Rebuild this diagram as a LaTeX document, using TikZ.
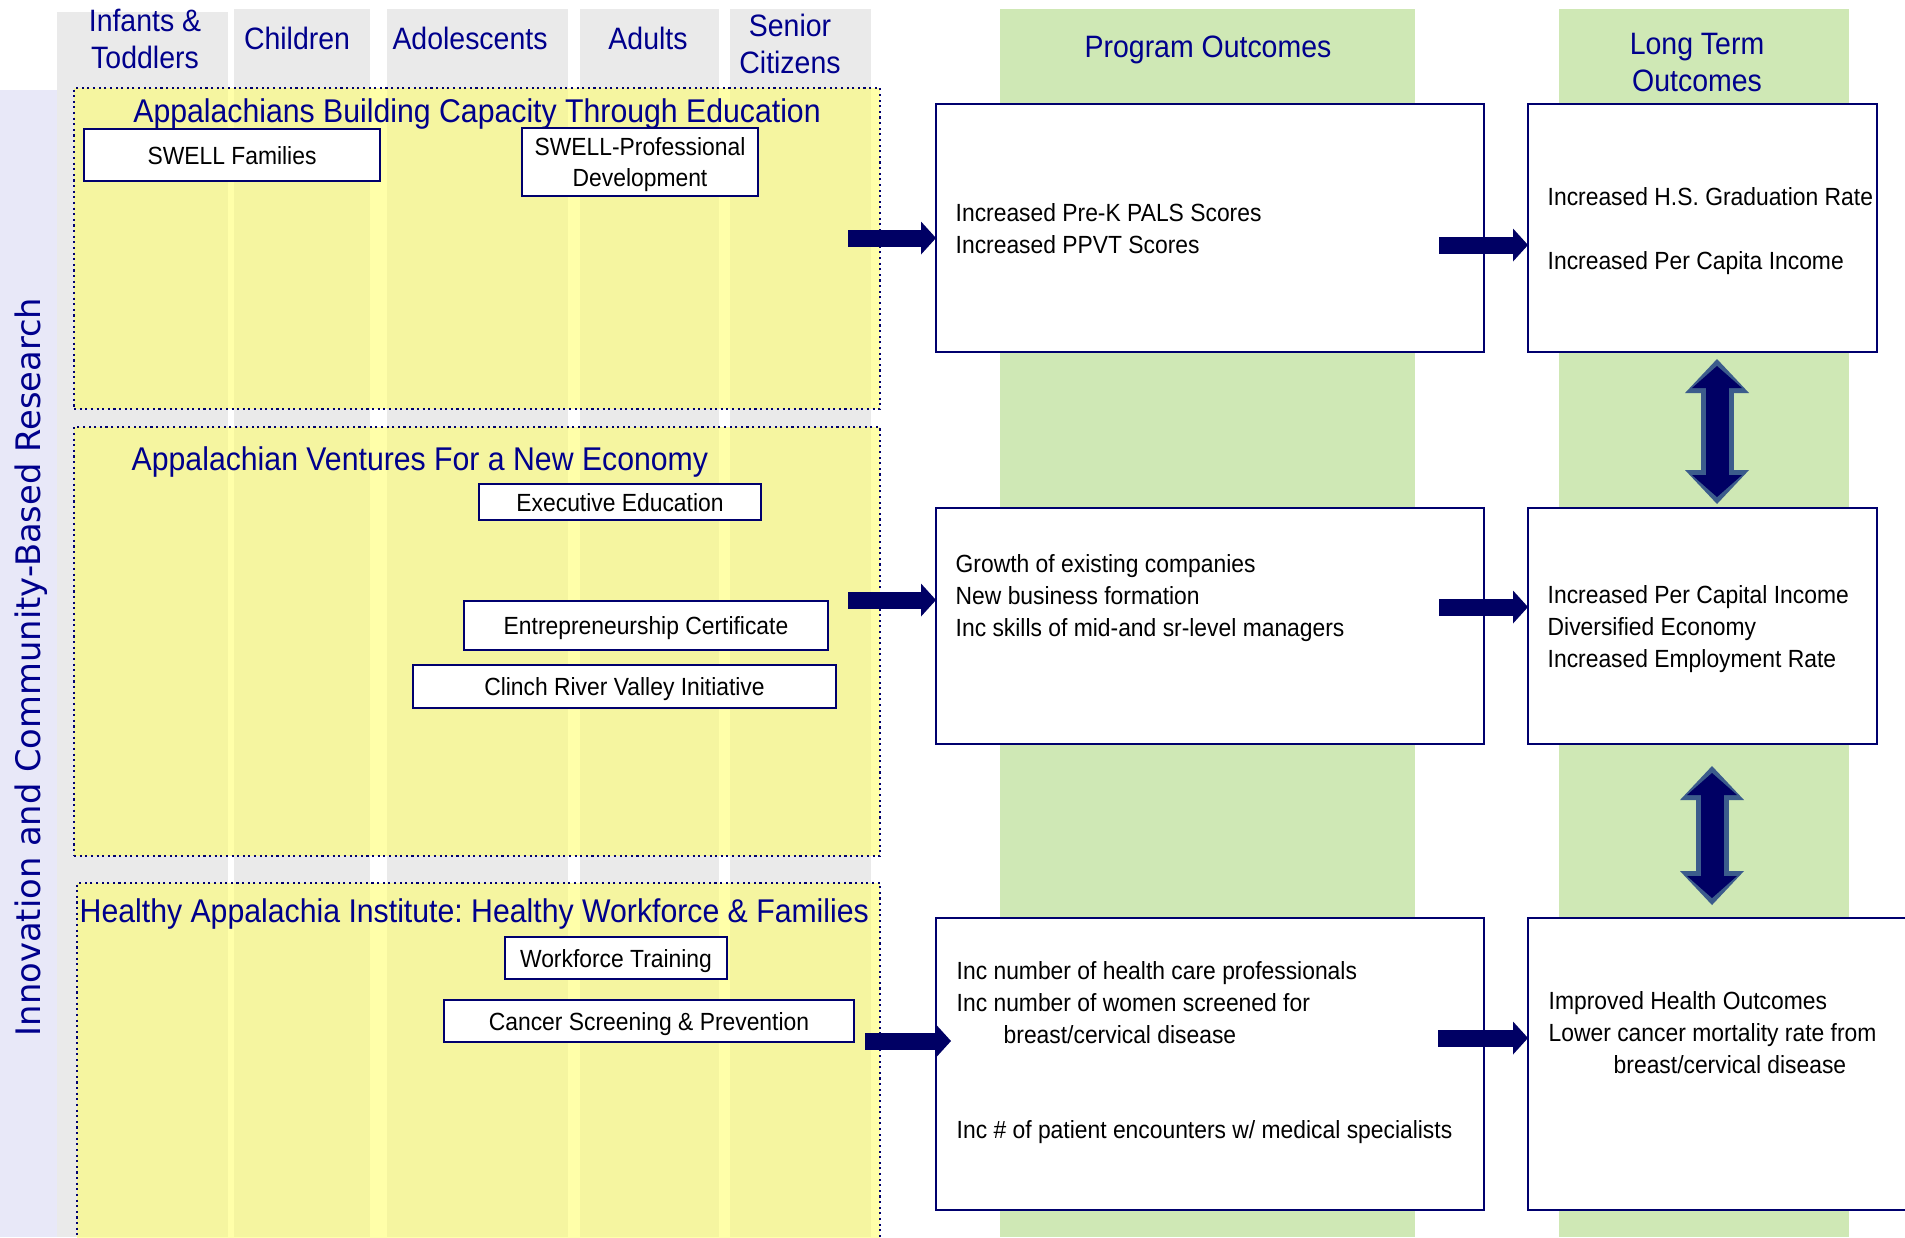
\documentclass[tikz,border=0pt]{standalone}
\usepackage{fontspec}
\setmainfont{Liberation Sans}[FakeStretch=0.92]
\newfontfamily\sidefont{DejaVu Sans}
\usetikzlibrary{positioning, calc, arrows.meta}
\frenchspacing

\definecolor{navytext}{RGB}{0,0,140}
\definecolor{navyline}{RGB}{0,0,110}
\definecolor{navyarrow}{RGB}{0,0,100}
\definecolor{steelrim}{RGB}{60,92,140}
\definecolor{headgrey}{RGB}{234,234,234}
\definecolor{sidelav}{RGB}{232,232,248}
\definecolor{outgreen}{RGB}{207,232,181}
\definecolor{progyellow}{RGB}{255,255,100}

\begin{document}
\begin{tikzpicture}[every node/.style={font=\fontsize{7.07}{9}\selectfont},
    colhead/.style={text=navytext, align=center, inner sep=0pt, anchor=base, font=\fontsize{8.8}{10.5}\selectfont},
    progarea/.style={draw=navyline, densely dotted, line width=0.6pt, fill=progyellow, fill opacity=0.55, anchor=north west, inner sep=0pt, minimum width=8.06cm},
    progtitle/.style={text=navytext, inner sep=0pt, font=\fontsize{9.35}{11}\selectfont},
    initiative/.style={draw=navyline, line width=0.8pt, fill=white, align=center, inner sep=0pt, text depth=0pt},
    outbox/.style={draw=navyline, line width=0.8pt, fill=white, anchor=north west, inner sep=0pt, outer sep=0pt},
    outtext/.style={align=left, inner sep=0pt, anchor=base west},
    blockarr/.style={draw=navyarrow, line width=0.17cm, -{Triangle[length=0.15cm, width=0.33cm, line width=0pt]}},
    dblrim/.style={draw=steelrim, line width=0.33cm, {Triangle[length=0.34cm, width=0.64cm, line width=0pt]}-{Triangle[length=0.34cm, width=0.64cm, line width=0pt]}},
    dblcore/.style={draw=navyarrow, line width=0.23cm, {Triangle[length=0.22cm, width=0.50cm, line width=0pt]}-{Triangle[length=0.22cm, width=0.50cm, line width=0pt]}}]
        \useasboundingbox (0,0) rectangle (19.05,-12.37);
        \fill[white] (0,0) rectangle (19.05,-12.37);

        % Background bands
        \fill[sidelav] (0,-0.90) rectangle (0.57,-12.37);
        \foreach \xl/\xr/\yt in {0.57/2.28/0.12, 2.34/3.70/0.09, 3.87/5.68/0.09, 5.80/7.19/0.09, 7.30/8.71/0.09}
            \fill[headgrey] (\xl,-\yt) rectangle (\xr,-12.37);
        \fill[outgreen] (10.00,-0.09) rectangle (14.15,-12.37);
        \fill[outgreen] (15.59,-0.09) rectangle (18.49,-12.37);

        % Age group headers (base = last line)
        \node (hInf) [colhead] at (1.45,-0.68) {Infants \&\\Toddlers};
        \node (hChild) [colhead] at (2.97,-0.49) {Children};
        \node (hAdol) [colhead] at (4.70,-0.49) {Adolescents};
        \node (hAdult) [colhead] at (6.48,-0.49) {Adults};
        \node (hSenior) [colhead] at (7.90,-0.73) {Senior\\Citizens};
        \node (hProg) [colhead] at (12.08,-0.57) {Program Outcomes};
        \node (hLong) [colhead] at (16.97,-0.91) {Long Term\\Outcomes};

        % Side label
        \node (sideLabel) [rotate=90, anchor=base, inner sep=0pt, text=navytext, font=\sidefont\fontsize{9.6}{11}\selectfont] at (0.41,-6.67) {Innovation and Community-Based Research};

        % Program areas
        \node (ABCE) [progarea, minimum height=3.21cm] at (0.73,-0.87) {};
        \node (AVNE) [progarea, minimum height=4.29cm] at (0.73,-4.26) {};
        \node (HAI) [progarea, minimum width=8.03cm, minimum height=4.0cm] at (0.76,-8.82) {};

        \node (ABCEtitle) [progtitle, anchor=base] at ([yshift=-0.35cm]ABCE.north) {Appalachians Building Capacity Through Education};
        \node (AVNEtitle) [progtitle, anchor=base west] at ($(AVNE.north west)+(0.58,-0.44)$) {Appalachian Ventures For a New Economy};
        \node (HAItitle) [progtitle, anchor=base west] at ($(HAI.north west)+(0.03,-0.40)$) {Healthy Appalachia Institute: Healthy Workforce \& Families};

        % Initiatives
        \node (SwellFam) [initiative, minimum width=2.96cm, minimum height=0.52cm] at (2.32,-1.55) {SWELL Families};
        \node (SwellPD) [initiative, minimum width=2.36cm, minimum height=0.68cm] at (6.40,-1.62) {SWELL-Professional\\Development};
        \node (ExecEd) [initiative, minimum width=2.82cm, minimum height=0.36cm] at (6.20,-5.02) {Executive Education};
        \node (EntCert) [initiative, minimum width=3.64cm, minimum height=0.49cm] at (6.46,-6.255) {Entrepreneurship Certificate};
        \node (Clinch) [initiative, minimum width=4.23cm, minimum height=0.43cm] at (6.245,-6.865) {Clinch River Valley Initiative};
        \node (WorkTrain) [initiative, minimum width=2.22cm, minimum height=0.42cm] at (6.16,-9.58) {Workforce Training};
        \node (CancerScr) [initiative, minimum width=4.10cm, minimum height=0.42cm] at (6.49,-10.21) {Cancer Screening \& Prevention};

        % Outcome boxes
        \node (ProgEdu) [outbox, minimum width=5.48cm, minimum height=2.48cm] at (9.36,-1.04) {};
        \node (LongEdu) [outbox, right=0.44cm of ProgEdu, minimum width=3.49cm, minimum height=2.48cm] {};
        \node (ProgEcon) [outbox, below=1.56cm of ProgEdu, minimum width=5.48cm, minimum height=2.36cm] {};
        \node (LongEcon) [outbox, right=0.44cm of ProgEcon, minimum width=3.49cm, minimum height=2.36cm] {};
        \node (ProgHealth) [outbox, below=1.74cm of ProgEcon, minimum width=5.48cm, minimum height=2.92cm] {};
        \node (LongHealth) [outbox, right=0.44cm of ProgHealth, minimum width=4.6cm, minimum height=2.92cm] {};

        % Outcome texts (base = last line)
        \node (ProgEduTxt) [outtext] at ($(ProgEdu.north west)+(0.19,-1.49)$) {Increased Pre-K PALS Scores\\Increased PPVT Scores};
        \node (LongEduTxt) [outtext] at ($(LongEdu.north west)+(0.19,-1.65)$) {Increased H.S. Graduation Rate\\[9pt]Increased Per Capita Income};
        \node (ProgEconTxt) [outtext] at ($(ProgEcon.north west)+(0.19,-1.28)$) {Growth of existing companies\\New business formation\\Inc skills of mid-and sr-level managers};
        \node (LongEconTxt) [outtext] at ($(LongEcon.north west)+(0.19,-1.59)$) {Increased Per Capital Income\\Diversified Economy\\Increased Employment Rate};
        \node (ProgHealthTxt) [outtext] at ($(ProgHealth.north west)+(0.20,-2.20)$) {Inc number of health care professionals\\Inc number of women screened for\\\hspace*{0.47cm}breast/cervical disease\\[18pt]Inc \# of patient encounters w/ medical specialists};
        \node (LongHealthTxt) [outtext] at ($(LongHealth.north west)+(0.20,-1.55)$) {Improved Health Outcomes\\Lower cancer mortality rate from\\\hspace*{0.65cm}breast/cervical disease};

        % Arrows
        \coordinate (eduTail) at ($(ABCE.east |- ProgEdu.west)+(-0.33,-0.10)$);
        \coordinate (eduMid) at ($(ProgEdu.east)+(-0.45,-0.17)$);
        \coordinate (econTail) at ($(AVNE.east |- ProgEcon.west)+(-0.33,0.26)$);
        \coordinate (econMid) at ($(ProgEcon.east)+(-0.45,0.19)$);
        \coordinate (healthTail) at ($(HAI.east |- ProgHealth.west)+(-0.16,0.23)$);
        \coordinate (healthMid) at ($(ProgHealth.east)+(-0.46,0.26)$);
        \draw[blockarr] (eduTail) -- (eduTail -| ProgEdu.west);
        \draw[blockarr] (eduMid) -- (eduMid -| LongEdu.west);
        \draw[blockarr] (econTail) -- (econTail -| ProgEcon.west);
        \draw[blockarr] (econMid) -- (econMid -| LongEcon.west);
        \draw[blockarr] (healthTail) -- ($(healthTail -| ProgHealth.west)+(0.15,0)$);
        \draw[blockarr] (healthMid) -- (healthMid -| LongHealth.west);

        \draw[dblrim, shorten <=0.07cm, shorten >=0.04cm] ([xshift=0.145cm]LongEdu.south) -- ([xshift=0.145cm]LongEcon.north);
        \draw[dblcore, shorten <=0.14cm, shorten >=0.11cm] ([xshift=0.145cm]LongEdu.south) -- ([xshift=0.145cm]LongEcon.north);
        \draw[dblrim, shorten <=0.22cm, shorten >=0.13cm] ([xshift=0.095cm]LongEcon.south) -- ([xshift=0.095cm]LongEcon.south |- LongHealth.north);
        \draw[dblcore, shorten <=0.29cm, shorten >=0.20cm] ([xshift=0.095cm]LongEcon.south) -- ([xshift=0.095cm]LongEcon.south |- LongHealth.north);
    \end{tikzpicture}
\end{document}
